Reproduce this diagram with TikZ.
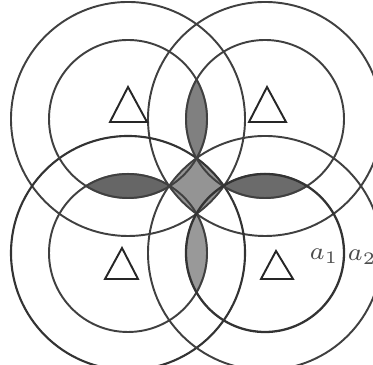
\documentclass[tikz,border=0pt]{standalone}
\begin{document}
\begin{tikzpicture}[scale=1]
    \useasboundingbox (0,0) rectangle (3.73,3.65);
    % Centres of the four circle pairs
    \coordinate (tl) at (1.28,2.46);
    \coordinate (tr) at (2.65,2.46);
    \coordinate (bl) at (1.28,1.12);
    \coordinate (br) at (2.65,1.12);
    % Shaded lenses (overlap of neighbouring inner circles)
    \begin{scope}
        \clip (tl) circle (0.80);
        \fill[black!50] (tr) circle (0.80);
        \fill[black!60] (bl) circle (0.80);
    \end{scope}
    \begin{scope}
        \clip (br) circle (0.80);
        \fill[black!58] (tr) circle (0.80);
        \fill[black!40] (bl) circle (0.80);
    \end{scope}
    % Middle patch (overlap of all four outer circles)
    \begin{scope}
        \clip (tl) circle (1.17);
        \clip (tr) circle (1.17);
        \clip (bl) circle (1.17);
        \fill[black!42] (br) circle (1.17);
    \end{scope}
    % Outer circles
    \draw[black!75,line width=0.55pt] (tl) circle (1.17);
    \draw[black!75,line width=0.55pt] (tr) circle (1.17);
    \draw[black!80,line width=0.6pt] (bl) circle (1.17);
    \draw[black!75,line width=0.55pt] (br) circle (1.17);
    % Inner circles
    \draw[black!75,line width=0.55pt] (tl) circle (0.79);
    \draw[black!75,line width=0.55pt] (tr) circle (0.79);
    \draw[black!75,line width=0.55pt] (bl) circle (0.79);
    \draw[black!80,line width=0.65pt] (br) circle (0.79);
    % Triangles
    \draw[black!85,line width=0.55pt] (1.10,2.43) -- (1.28,2.78) -- (1.47,2.43) -- cycle;
    \draw[black!85,line width=0.55pt] (2.49,2.43) -- (2.67,2.78) -- (2.86,2.43) -- cycle;
    \draw[black!85,line width=0.55pt] (1.05,0.86) -- (1.22,1.17) -- (1.38,0.86) -- cycle;
    \draw[black!85,line width=0.55pt] (2.61,0.86) -- (2.76,1.14) -- (2.93,0.86) -- cycle;
    % Labels of the two radii
    \node[black!70] (a1) at (3.24,1.09) {\scriptsize $a_1$};
    \node[black!70] (a2) at (3.62,1.08) {\scriptsize $a_2$};
\end{tikzpicture}
\end{document}
